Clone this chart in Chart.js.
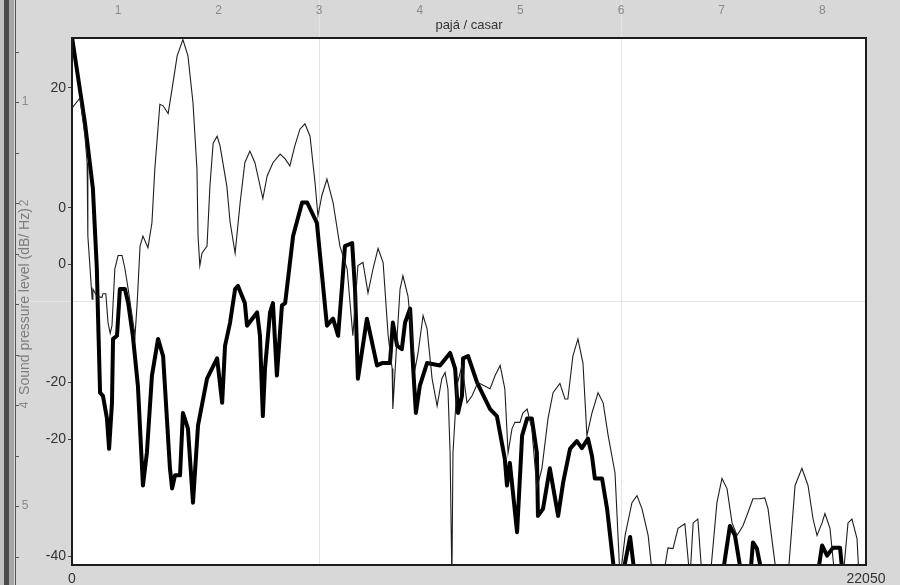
<!DOCTYPE html>
<html>
<head>
<meta charset="utf-8">
<script src="https://cdn.jsdelivr.net/npm/chart.js@4.4.1/dist/chart.umd.min.js"></script>
<style>
  html, body { margin: 0; padding: 0; background: #d8d8d8; }
</style>
</head>
<body>
<canvas id="spectrum" width="900" height="585"></canvas>
<script>
// thin curve: frequency (Hz) and level (dB/Hz)
const thinFreq = [
  0, 220, 360, 420, 440, 560, 580, 690, 830, 860,
  940, 1000, 1060, 1110, 1190, 1280, 1390, 1470, 1560, 1750,
  1810, 1890, 1970, 2110, 2220, 2300, 2440, 2530, 2670, 2780,
  2920, 3080, 3220, 3360, 3470, 3500, 3550, 3610, 3750, 3830,
  3920, 4030, 4110, 4300, 4390, 4530, 4670, 4800, 4940, 5080,
  5300, 5420, 5580, 5780, 5920, 6050, 6190, 6330, 6470, 6610,
  6750, 6830, 6940, 7080, 7250, 7440, 7640, 7800, 7940, 8080,
  8220, 8360, 8500, 8640, 8780, 8890, 8910, 9030, 9110, 9190,
  9330, 9440, 9530, 9610, 9750, 9860, 10000, 10140, 10270, 10360,
  10440, 10500, 10550, 10580, 10690, 10830, 10970, 11110, 11270, 11610,
  11750, 11890, 12020, 12110, 12220, 12300, 12440, 12520, 12640, 12770,
  12910, 13050, 13220, 13360, 13550, 13690, 13770, 13910, 14050, 14190,
  14300, 14440, 14610, 14750, 14890, 15080, 15220, 15360, 15550, 15690,
  15830, 16000, 16130, 16410, 16550, 16690, 16830, 17020, 17160, 17250,
  17380, 17500, 17720, 17910, 18050, 18190, 18330, 18470, 18630, 18770,
  18910, 19110, 19240, 19330, 19470, 19580, 19880, 20080, 20270, 20440,
  20580, 20690, 20830, 20910, 21050, 21190, 21410, 21550, 21660, 21800,
  21860, 22050
];
const thinLevel = [
  17.4, 18.7, 13.8, 10.4, 1.0, -7.1, -5.8, -6.7, -6.9, -6.4,
  -6.4, -10.1, -11.5, -10.5, -3.2, -1.5, -1.5, -3.2, -5.8, -11.8,
  -7.6, -0.3, 1.0, -0.5, 2.7, 9.6, 17.9, 17.7, 16.7, 19.9,
  24.1, 26.2, 24.1, 18.1, 9.6, 1.0, -2.8, -1.2, -0.3, 7.4,
  12.9, 13.8, 12.6, 7.4, 2.8, -1.2, 5.3, 10.4, 11.9, 10.4,
  5.8, 8.7, 10.4, 11.5, 10.9, 10.0, 12.6, 14.7, 15.4, 13.8,
  7.8, 3.6, 6.2, 8.3, 5.3, -0.3, -3.2, -11.8, -2.8, -2.4,
  -6.3, -3.2, -0.6, -2.4, -11.8, -16.0, -21.2, -11.8, -5.8, -4.1,
  -6.7, -11.8, -16.0, -14.0, -9.2, -10.9, -17.3, -20.8, -17.3, -16.5,
  -18.6, -26.8, -43, -26.8, -18.2, -15.6, -20.4, -19.5, -17.8, -18.6,
  -16.9, -15.6, -18.6, -26.8, -23.7, -22.9, -22.9, -21.7, -21.2, -23.7,
  -31.4, -28.8, -22.4, -19.1, -17.9, -19.9, -19.9, -14.4, -12.2, -15.3,
  -24.6, -21.7, -19.1, -20.4, -24.6, -29.4, -43, -37.4, -33.2, -32.3,
  -34.0, -37.4, -43, -43, -39.0, -39.1, -36.5, -35.9, -43, -35.8,
  -35.3, -43, -43, -33.2, -30.1, -31.4, -35.8, -37.4, -36.2, -34.5,
  -32.7, -32.7, -32.6, -34.0, -39.1, -43, -43, -31.0, -28.8, -31.0,
  -35.3, -37.4, -35.8, -34.6, -36.5, -43, -43, -35.8, -35.3, -37.8,
  -43, -43
];

// thick curve: frequency (Hz) and level (dB/Hz)
const thickFreq = [
  0, 360, 580, 690, 720, 780, 860, 970, 1030, 1110,
  1140, 1250, 1330, 1470, 1560, 1690, 1830, 1970, 2080, 2220,
  2390, 2530, 2720, 2780, 2860, 3000, 3080, 3220, 3360, 3500,
  3750, 4030, 4170, 4250, 4390, 4530, 4610, 4800, 4860, 5140,
  5220, 5300, 5360, 5500, 5580, 5690, 5830, 5920, 6140, 6390,
  6530, 6800, 7080, 7250, 7390, 7500, 7580, 7780, 7860, 7940,
  8190, 8470, 8610, 8830, 8910, 9030, 9160, 9250, 9390, 9470,
  9550, 9660, 9860, 10220, 10500, 10640, 10720, 10830, 10860, 11000,
  11250, 11610, 11800, 12020, 12080, 12160, 12360, 12500, 12640, 12770,
  12910, 12940, 13080, 13270, 13500, 13640, 13830, 14020, 14160, 14330,
  14440, 14520, 14720, 14860, 15080, 15270, 15500, 15640, 18050, 18270,
  18410, 18610, 18830, 18910, 19020, 19190, 20690, 20830, 20970, 21130,
  21330, 21410, 22050
];
const thickLevel = [
  26.5, 15.5, 7.1, -3.2, -8.8, -19.1, -19.5, -22.4, -26.3, -20.4,
  -12.2, -11.8, -5.8, -5.8, -7.6, -11.8, -18.2, -31.0, -26.8, -16.9,
  -12.2, -14.4, -28.8, -31.4, -29.7, -29.7, -21.7, -23.7, -33.2, -23.3,
  -17.3, -14.7, -20.4, -13.1, -10.1, -5.8, -5.4, -7.6, -10.5, -8.8,
  -11.8, -22.1, -16.0, -8.8, -7.6, -16.9, -7.9, -7.6, 1.0, 5.3,
  5.3, 2.7, -10.5, -9.6, -11.8, -5.4, -0.3, 0.1, -5.8, -17.3,
  -9.6, -15.6, -15.3, -15.3, -10.1, -13.1, -13.5, -10.1, -8.3, -15.6,
  -21.7, -18.2, -15.3, -15.6, -14.0, -16.0, -21.7, -19.5, -14.7, -14.4,
  -17.8, -21.2, -22.1, -27.6, -31.0, -28.1, -37.0, -24.6, -22.4, -22.4,
  -26.8, -34.9, -34.0, -28.8, -34.9, -30.6, -26.3, -25.3, -26.2, -25.0,
  -27.2, -30.1, -30.1, -34.0, -43, -43, -37.6, -43, -43, -36.2,
  -37.4, -43, -43, -38.3, -39.1, -43, -43, -38.7, -40.0, -39.0,
  -39.0, -43, -43
];

// axis labels as printed in the picture
const yTickValues = [20, 4.6, -2.6, -17.8, -25.1, -40.1];
const yTickLabels = ['20', '0', '0', '-20', '-20', '-40'];
const bottomTicks = [0, 22050];
const topTicks = [1, 2, 3, 4, 5, 6, 7, 8];
const topGridAt = [3, 6];
const levelGridAt = [-7.4];
const outerTicks = [0.5, 1, 1.5, 2, 2.5, 3, 3.5, 4, 4.5, 5, 5.5];
const outerLabelAt = [1, 2, 4, 5];
const outerLabels = ['1', '2', '4', '5'];

Chart.defaults.font.family = "'Liberation Sans', Arial, sans-serif";

const toPoints = (xs, ys) => xs.map((x, i) => ({ x: x, y: ys[i] }));

const frame = {
  id: 'frame',
  beforeDraw(chart) {
    const { ctx, chartArea: a, scales } = chart;
    const h = chart.height;
    ctx.save();
    ctx.fillStyle = '#d8d8d8';
    ctx.fillRect(0, 0, chart.width, h);
    ctx.fillStyle = '#ffffff';
    ctx.fillRect(a.left, a.top, a.right - a.left, a.bottom - a.top);

    // window edge on the far left
    ctx.fillStyle = '#c2c2c2';
    ctx.fillRect(0, 0, 4, h);
    ctx.fillStyle = '#4a4a4a';
    ctx.fillRect(4, 0, 5, h);
    ctx.fillStyle = '#a6a6a6';
    ctx.fillRect(9, 0, 5, h);

    // grid lines
    ctx.strokeStyle = '#e4e4e4';
    ctx.lineWidth = 1;
    ctx.beginPath();
    topGridAt.forEach(v => {
      const px = Math.round(scales.x2.getPixelForValue(v)) + 0.5;
      ctx.moveTo(px, 0);
      ctx.lineTo(px, a.bottom);
    });
    levelGridAt.forEach(v => {
      const py = Math.round(scales.y.getPixelForValue(v)) + 0.5;
      ctx.moveTo(16, py);
      ctx.lineTo(a.right, py);
    });
    ctx.stroke();

    // outer axis line with ticks
    const yo = scales.yo;
    ctx.strokeStyle = '#555555';
    ctx.beginPath();
    ctx.moveTo(15.5, 0);
    ctx.lineTo(15.5, h);
    outerTicks.forEach(v => {
      const py = Math.round(yo.getPixelForValue(v)) + 0.5;
      ctx.moveTo(15, py);
      ctx.lineTo(19, py);
    });
    ctx.stroke();
    ctx.fillStyle = '#8a8a8a';
    ctx.font = "12px 'Liberation Sans', Arial, sans-serif";
    ctx.textAlign = 'center';
    ctx.textBaseline = 'middle';
    outerLabelAt.forEach((v, i) => {
      const py = yo.getPixelForValue(v);
      ctx.save();
      ctx.translate(25, py);
      if (outerLabels[i] === '2' || outerLabels[i] === '4') ctx.rotate(-Math.PI / 2);
      ctx.fillText(outerLabels[i], 0, 0);
      ctx.restore();
    });
    ctx.restore();
  },
  afterDatasetsDraw(chart) {
    const { ctx, chartArea: a } = chart;
    ctx.save();
    ctx.strokeStyle = '#1c1c1c';
    ctx.lineWidth = 2;
    ctx.strokeRect(a.left, a.top, a.right - a.left, a.bottom - a.top);
    ctx.fillStyle = '#333333';
    ctx.font = "13px 'Liberation Sans', Arial, sans-serif";
    ctx.textAlign = 'center';
    ctx.textBaseline = 'middle';
    ctx.fillText('pajá / casar', (a.left + a.right) / 2, 25);
    ctx.restore();
  }
};

new Chart(document.getElementById('spectrum'), {
  type: 'line',
  data: {
    datasets: [
      {
        label: 'pajá',
        data: toPoints(thinFreq, thinLevel),
        borderColor: '#1e1e1e',
        borderWidth: 1.1,
        pointRadius: 0,
        tension: 0,
        clip: 0
      },
      {
        label: 'casar',
        data: toPoints(thickFreq, thickLevel),
        borderColor: '#000000',
        borderWidth: 4,
        borderJoinStyle: 'round',
        borderCapStyle: 'round',
        pointRadius: 0,
        tension: 0,
        clip: 0
      }
    ]
  },
  options: {
    responsive: false,
    animation: false,
    events: [],
    layout: { padding: { left: 0, right: 34, top: 0, bottom: 0 } },
    plugins: { legend: { display: false }, tooltip: { enabled: false } },
    scales: {
      x: {
        type: 'linear',
        position: 'bottom',
        min: 0,
        max: 22050,
        grid: { display: false },
        border: { display: false },
        afterBuildTicks: s => { s.ticks = bottomTicks.map(v => ({ value: v })); },
        ticks: {
          color: '#333333',
          font: { size: 14 },
          padding: -2,
          maxRotation: 0,
          autoSkip: false,
          callback: v => String(v)
        },
        afterFit: s => { s.height = 20; }
      },
      x2: {
        type: 'linear',
        position: 'top',
        min: 0.543,
        max: 8.435,
        grid: { display: false },
        border: { display: false },
        afterBuildTicks: s => { s.ticks = topTicks.map(v => ({ value: v })); },
        ticks: { color: '#8a8a8a', font: { size: 12 }, padding: 12, maxRotation: 0, autoSkip: false },
        afterFit: s => { s.height = 38; }
      },
      y: {
        type: 'linear',
        position: 'left',
        min: -41.2,
        max: 26.4,
        grid: { drawOnChartArea: false, tickLength: 4, color: '#444444' },
        border: { display: false },
        afterBuildTicks: s => { s.ticks = yTickValues.map(v => ({ value: v })); },
        ticks: {
          color: '#333333',
          font: { size: 14 },
          padding: 2,
          autoSkip: false,
          callback: (v, i) => yTickLabels[i]
        },
        title: {
          display: true,
          text: 'Sound pressure level (dB/ Hz)',
          color: '#7c7c7c',
          font: { size: 14 },
          padding: { top: 17, bottom: 0 }
        },
        afterFit: s => { s.width = 72; }
      },
      yo: {
        type: 'linear',
        display: false,
        position: 'left',
        min: 0.366,
        max: 5.584,
        reverse: true
      }
    }
  },
  plugins: [frame]
});
</script>
</body>
</html>
